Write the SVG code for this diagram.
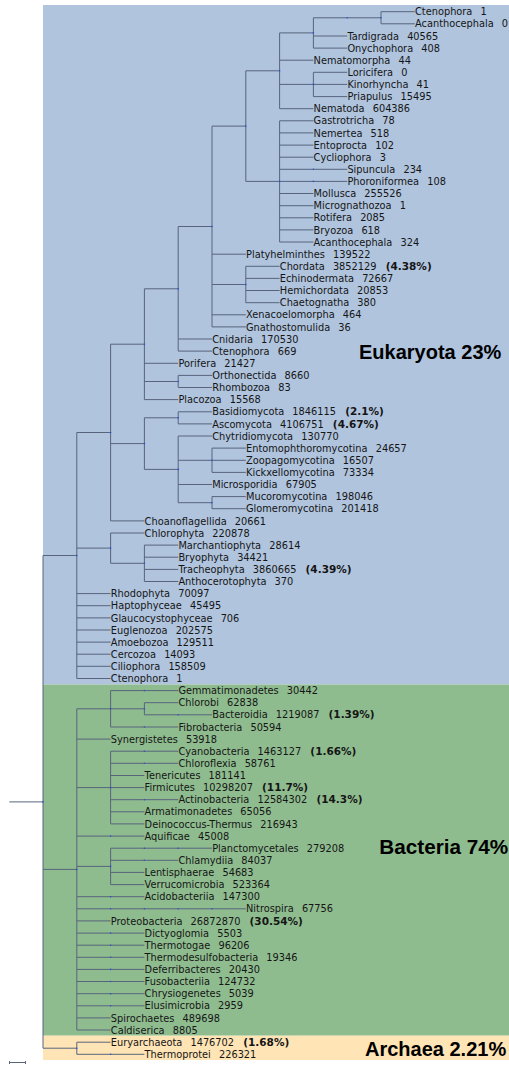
<svg xmlns="http://www.w3.org/2000/svg" width="509" height="1065" viewBox="0 0 509 1065">
<style>
.t{font-family:"DejaVu Sans",Verdana,sans-serif;font-size:9.8px;fill:#151515}
.b{font-weight:bold;font-size:10.5px}
.big{font-family:"Liberation Sans",Arial,sans-serif;font-weight:bold;fill:#000}
.e{stroke:#58647c;stroke-width:1;fill:none}
.d{fill:#2a4fd8}
</style>
<rect width="509" height="1065" fill="#fff"/>
<g id="backgrounds">
<rect x="43" y="5" width="466" height="679.5" fill="#b0c4de"/>
<rect x="43" y="684.5" width="466" height="351.2" fill="#8fbc8f"/>
<rect x="43" y="1035.7" width="466" height="24.3" fill="#ffe4b5"/>
</g>
<g id="connectors" class="e">
<path d="M9.3 801.9H43M43 555.5V1048.2M43 555.5H76.8M43 869.4H76.8M43 1048.2H76.8"/>
<path d="M76.8 432.5V678.5M76.8 432.5H110.6M76.8 548.1H110.6M76.8 593.6H110.6M76.8 605.7H110.6M76.8 617.9H110.6M76.8 630H110.6M76.8 642.1H110.6M76.8 654.2H110.6M76.8 666.3H110.6M76.8 678.5H110.6"/>
<path d="M110.6 344.2V520.9M110.6 344.2H144.4M110.6 443.6H144.4M110.6 520.9H144.4"/>
<path d="M144.4 288.8V399.6M144.4 288.8H178.2M144.4 363.3H178.2M144.4 381.5H178.2M144.4 399.6H178.2"/>
<path d="M178.2 226.5V351.1M178.2 226.5H212M178.2 339H212M178.2 351.1H212"/>
<path d="M178.2 375.4V387.5M178.2 375.4H212M178.2 387.5H212"/>
<path d="M212 126.1V326.9M212 126.1H245.8M212 254.2H245.8M212 284.5H245.8M212 314.8H245.8M212 326.9H245.8"/>
<path d="M245.8 70.8V181.4M245.8 70.8H279.6M245.8 181.4H279.6"/>
<path d="M245.8 266.3V302.7M245.8 266.3H279.6M245.8 278.4H279.6M245.8 290.5H279.6M245.8 302.7H279.6"/>
<path d="M279.6 32.9V108.7M279.6 32.9H313.4M279.6 60.2H313.4M279.6 84.4H313.4M279.6 108.7H313.4"/>
<path d="M313.4 17.8V48.1M313.4 17.8H381M313.4 36H347.2M313.4 48.1H347.2"/>
<path d="M381 11.7V23.8M381 11.7H414.8M381 23.8H414.8"/>
<path d="M313.4 72.3V96.6M313.4 72.3H347.2M313.4 84.4H347.2M313.4 96.6H347.2"/>
<path d="M279.6 120.8V242M279.6 120.8H313.4M279.6 132.9H313.4M279.6 145.1H313.4M279.6 157.2H313.4M279.6 169.3H347.2M279.6 181.4H347.2M279.6 193.5H313.4M279.6 205.7H313.4M279.6 217.8H313.4M279.6 229.9H313.4M279.6 242H313.4"/>
<path d="M144.4 417.8V469.4M144.4 417.8H178.2M144.4 469.4H178.2"/>
<path d="M178.2 411.8V423.9M178.2 411.8H212M178.2 423.9H212"/>
<path d="M178.2 436V502.7M178.2 436H212M178.2 460.3H212M178.2 484.5H212M178.2 502.7H212"/>
<path d="M212 448.1V472.4M212 448.1H245.8M212 460.3H245.8M212 472.4H245.8"/>
<path d="M212 496.6V508.7M212 496.6H245.8M212 508.7H245.8"/>
<path d="M110.6 533V563.3M110.6 533H144.4M110.6 563.3H144.4"/>
<path d="M144.4 545.1V581.5M144.4 545.1H178.2M144.4 557.2H178.2M144.4 569.4H178.2M144.4 581.5H178.2"/>
<path d="M76.8 708.8V1030M76.8 708.8H110.6M76.8 739.1H110.6M76.8 787.6H110.6M76.8 866.4H110.6M76.8 920.9H110.6M76.8 1017.9H110.6M76.8 1030H110.6M76.8 836.1H144.4M76.8 896.7H144.4M76.8 933.1H144.4M76.8 945.2H144.4M76.8 957.3H144.4M76.8 969.4H144.4M76.8 981.5H144.4M76.8 993.7H144.4M76.8 1005.8H144.4M76.8 908.8H245.8"/>
<path d="M110.6 690.6V727M110.6 690.6H178.2M110.6 708.8H144.4M110.6 727H178.2"/>
<path d="M144.4 702.7V714.8M144.4 702.7H178.2M144.4 714.8H212"/>
<path d="M110.6 751.2V823.9M110.6 751.2H178.2M110.6 763.3H178.2M110.6 775.5H144.4M110.6 787.6H144.4M110.6 799.7H178.2M110.6 811.8H144.4M110.6 823.9H144.4"/>
<path d="M110.6 848.2V884.6M110.6 848.2H212M110.6 860.3H178.2M110.6 872.4H144.4M110.6 884.6H144.4"/>
<path d="M76.8 1042.2V1054.3M76.8 1042.2H110.6M76.8 1054.3H144.4"/>
<path d="M9.5 1062.5H25.5M9.5 1061V1064M25.5 1061V1064"/>
</g>
<g id="node-markers" class="d">
<circle cx="43" cy="801.9" r="0.8"/><circle cx="76.8" cy="555.5" r="0.8"/><circle cx="76.8" cy="869.4" r="0.8"/><circle cx="76.8" cy="1048.2" r="0.8"/>
<circle cx="110.6" cy="432.5" r="0.8"/><circle cx="110.6" cy="548.1" r="0.8"/><circle cx="144.4" cy="344.2" r="0.8"/><circle cx="144.4" cy="443.6" r="0.8"/>
<circle cx="144.4" cy="563.3" r="0.8"/><circle cx="178.2" cy="288.8" r="0.8"/><circle cx="178.2" cy="381.5" r="0.8"/><circle cx="178.2" cy="417.8" r="0.8"/>
<circle cx="178.2" cy="469.4" r="0.8"/><circle cx="212" cy="226.5" r="0.8"/><circle cx="212" cy="460.3" r="0.8"/><circle cx="212" cy="502.7" r="0.8"/>
<circle cx="245.8" cy="126.1" r="0.8"/><circle cx="245.8" cy="284.5" r="0.8"/><circle cx="279.6" cy="70.8" r="0.8"/><circle cx="279.6" cy="181.4" r="0.8"/>
<circle cx="313.4" cy="32.9" r="0.8"/><circle cx="313.4" cy="84.4" r="0.8"/><circle cx="381" cy="17.8" r="0.8"/><circle cx="347.2" cy="17.8" r="0.8"/>
<circle cx="313.4" cy="169.3" r="0.8"/><circle cx="313.4" cy="181.4" r="0.8"/>
<circle cx="110.6" cy="708.8" r="0.8"/><circle cx="144.4" cy="708.8" r="0.8"/><circle cx="110.6" cy="787.6" r="0.8"/><circle cx="110.6" cy="866.4" r="0.8"/>
<circle cx="144.4" cy="690.6" r="0.8"/><circle cx="178.2" cy="714.8" r="0.8"/><circle cx="144.4" cy="727" r="0.8"/>
<circle cx="144.4" cy="751.2" r="0.8"/><circle cx="144.4" cy="763.3" r="0.8"/><circle cx="144.4" cy="799.7" r="0.8"/>
<circle cx="110.6" cy="836.1" r="0.8"/><circle cx="144.4" cy="848.2" r="0.8"/><circle cx="178.2" cy="848.2" r="0.8"/><circle cx="144.4" cy="860.3" r="0.8"/>
<circle cx="110.6" cy="896.7" r="0.8"/><circle cx="110.6" cy="908.8" r="0.8"/><circle cx="144.4" cy="908.8" r="0.8"/><circle cx="178.2" cy="908.8" r="0.8"/><circle cx="212" cy="908.8" r="0.8"/>
<circle cx="110.6" cy="933.1" r="0.8"/><circle cx="110.6" cy="945.2" r="0.8"/><circle cx="110.6" cy="957.3" r="0.8"/><circle cx="110.6" cy="969.4" r="0.8"/>
<circle cx="110.6" cy="981.5" r="0.8"/><circle cx="110.6" cy="993.7" r="0.8"/><circle cx="110.6" cy="1005.8" r="0.8"/><circle cx="110.6" cy="1054.3" r="0.8"/>
</g>
<g class="t">
<g id="n01"><text x="415" y="15.3">Ctenophora <tspan dx="5">1</tspan></text></g>
<g id="n02"><text x="415" y="27.4">Acanthocephala <tspan dx="5">0</tspan></text></g>
<g id="n03"><text x="347.4" y="39.6">Tardigrada <tspan dx="5">40565</tspan></text></g>
<g id="n04"><text x="347.4" y="51.7">Onychophora <tspan dx="5">408</tspan></text></g>
<g id="n05"><text x="313.6" y="63.8">Nematomorpha <tspan dx="5">44</tspan></text></g>
<g id="n06"><text x="347.4" y="75.9">Loricifera <tspan dx="5">0</tspan></text></g>
<g id="n07"><text x="347.4" y="88">Kinorhyncha <tspan dx="5">41</tspan></text></g>
<g id="n08"><text x="347.4" y="100.2">Priapulus <tspan dx="5">15495</tspan></text></g>
<g id="n09"><text x="313.6" y="112.3">Nematoda <tspan dx="5">604386</tspan></text></g>
<g id="n10"><text x="313.6" y="124.4">Gastrotricha <tspan dx="5">78</tspan></text></g>
<g id="n11"><text x="313.6" y="136.5">Nemertea <tspan dx="5">518</tspan></text></g>
<g id="n12"><text x="313.6" y="148.7">Entoprocta <tspan dx="5">102</tspan></text></g>
<g id="n13"><text x="313.6" y="160.8">Cycliophora <tspan dx="5">3</tspan></text></g>
<g id="n14"><text x="347.4" y="172.9">Sipuncula <tspan dx="5">234</tspan></text></g>
<g id="n15"><text x="347.4" y="185">Phoroniformea <tspan dx="5">108</tspan></text></g>
<g id="n16"><text x="313.6" y="197.2">Mollusca <tspan dx="5">255526</tspan></text></g>
<g id="n17"><text x="313.6" y="209.3">Micrognathozoa <tspan dx="5">1</tspan></text></g>
<g id="n18"><text x="313.6" y="221.4">Rotifera <tspan dx="5">2085</tspan></text></g>
<g id="n19"><text x="313.6" y="233.5">Bryozoa <tspan dx="5">618</tspan></text></g>
<g id="n20"><text x="313.6" y="245.6">Acanthocephala <tspan dx="5">324</tspan></text></g>
<g id="n21"><text x="246" y="257.8">Platyhelminthes <tspan dx="5">139522</tspan></text></g>
<g id="n22"><text x="279.8" y="269.9">Chordata <tspan dx="5">3852129</tspan> <tspan class="b" dx="6">(4.38%)</tspan></text></g>
<g id="n23"><text x="279.8" y="282">Echinodermata <tspan dx="5">72667</tspan></text></g>
<g id="n24"><text x="279.8" y="294.1">Hemichordata <tspan dx="5">20853</tspan></text></g>
<g id="n25"><text x="279.8" y="306.3">Chaetognatha <tspan dx="5">380</tspan></text></g>
<g id="n26"><text x="246" y="318.4">Xenacoelomorpha <tspan dx="5">464</tspan></text></g>
<g id="n27"><text x="246" y="330.5">Gnathostomulida <tspan dx="5">36</tspan></text></g>
<g id="n28"><text x="212.2" y="342.6">Cnidaria <tspan dx="5">170530</tspan></text></g>
<g id="n29"><text x="212.2" y="354.7">Ctenophora <tspan dx="5">669</tspan></text></g>
<g id="n30"><text x="178.4" y="366.9">Porifera <tspan dx="5">21427</tspan></text></g>
<g id="n31"><text x="212.2" y="379">Orthonectida <tspan dx="5">8660</tspan></text></g>
<g id="n32"><text x="212.2" y="391.1">Rhombozoa <tspan dx="5">83</tspan></text></g>
<g id="n33"><text x="178.4" y="403.2">Placozoa <tspan dx="5">15568</tspan></text></g>
<g id="n34"><text x="212.2" y="415.4">Basidiomycota <tspan dx="5">1846115</tspan> <tspan class="b" dx="6">(2.1%)</tspan></text></g>
<g id="n35"><text x="212.2" y="427.5">Ascomycota <tspan dx="5">4106751</tspan> <tspan class="b" dx="6">(4.67%)</tspan></text></g>
<g id="n36"><text x="212.2" y="439.6">Chytridiomycota <tspan dx="5">130770</tspan></text></g>
<g id="n37"><text x="246" y="451.7">Entomophthoromycotina <tspan dx="5">24657</tspan></text></g>
<g id="n38"><text x="246" y="463.9">Zoopagomycotina <tspan dx="5">16507</tspan></text></g>
<g id="n39"><text x="246" y="476">Kickxellomycotina <tspan dx="5">73334</tspan></text></g>
<g id="n40"><text x="212.2" y="488.1">Microsporidia <tspan dx="5">67905</tspan></text></g>
<g id="n41"><text x="246" y="500.2">Mucoromycotina <tspan dx="5">198046</tspan></text></g>
<g id="n42"><text x="246" y="512.3">Glomeromycotina <tspan dx="5">201418</tspan></text></g>
<g id="n43"><text x="144.6" y="524.5">Choanoflagellida <tspan dx="5">20661</tspan></text></g>
<g id="n44"><text x="144.6" y="536.6">Chlorophyta <tspan dx="5">220878</tspan></text></g>
<g id="n45"><text x="178.4" y="548.7">Marchantiophyta <tspan dx="5">28614</tspan></text></g>
<g id="n46"><text x="178.4" y="560.8">Bryophyta <tspan dx="5">34421</tspan></text></g>
<g id="n47"><text x="178.4" y="573">Tracheophyta <tspan dx="5">3860665</tspan> <tspan class="b" dx="6">(4.39%)</tspan></text></g>
<g id="n48"><text x="178.4" y="585.1">Anthocerotophyta <tspan dx="5">370</tspan></text></g>
<g id="n49"><text x="110.8" y="597.2">Rhodophyta <tspan dx="5">70097</tspan></text></g>
<g id="n50"><text x="110.8" y="609.3">Haptophyceae <tspan dx="5">45495</tspan></text></g>
<g id="n51"><text x="110.8" y="621.5">Glaucocystophyceae <tspan dx="5">706</tspan></text></g>
<g id="n52"><text x="110.8" y="633.6">Euglenozoa <tspan dx="5">202575</tspan></text></g>
<g id="n53"><text x="110.8" y="645.7">Amoebozoa <tspan dx="5">129511</tspan></text></g>
<g id="n54"><text x="110.8" y="657.8">Cercozoa <tspan dx="5">14093</tspan></text></g>
<g id="n55"><text x="110.8" y="669.9">Ciliophora <tspan dx="5">158509</tspan></text></g>
<g id="n56"><text x="110.8" y="682.1">Ctenophora <tspan dx="5">1</tspan></text></g>
<g id="n57"><text x="178.4" y="694.2">Gemmatimonadetes <tspan dx="5">30442</tspan></text></g>
<g id="n58"><text x="178.4" y="706.3">Chlorobi <tspan dx="5">62838</tspan></text></g>
<g id="n59"><text x="212.2" y="718.4">Bacteroidia <tspan dx="5">1219087</tspan> <tspan class="b" dx="6">(1.39%)</tspan></text></g>
<g id="n60"><text x="178.4" y="730.6">Fibrobacteria <tspan dx="5">50594</tspan></text></g>
<g id="n61"><text x="110.8" y="742.7">Synergistetes <tspan dx="5">53918</tspan></text></g>
<g id="n62"><text x="178.4" y="754.8">Cyanobacteria <tspan dx="5">1463127</tspan> <tspan class="b" dx="6">(1.66%)</tspan></text></g>
<g id="n63"><text x="178.4" y="766.9">Chloroflexia <tspan dx="5">58761</tspan></text></g>
<g id="n64"><text x="144.6" y="779.1">Tenericutes <tspan dx="5">181141</tspan></text></g>
<g id="n65"><text x="144.6" y="791.2">Firmicutes <tspan dx="5">10298207</tspan> <tspan class="b" dx="6">(11.7%)</tspan></text></g>
<g id="n66"><text x="178.4" y="803.3">Actinobacteria <tspan dx="5">12584302</tspan> <tspan class="b" dx="6">(14.3%)</tspan></text></g>
<g id="n67"><text x="144.6" y="815.4">Armatimonadetes <tspan dx="5">65056</tspan></text></g>
<g id="n68"><text x="144.6" y="827.5">Deinococcus-Thermus <tspan dx="5">216943</tspan></text></g>
<g id="n69"><text x="144.6" y="839.7">Aquificae <tspan dx="5">45008</tspan></text></g>
<g id="n70"><text x="212.2" y="851.8">Planctomycetales <tspan dx="5">279208</tspan></text></g>
<g id="n71"><text x="178.4" y="863.9">Chlamydiia <tspan dx="5">84037</tspan></text></g>
<g id="n72"><text x="144.6" y="876">Lentisphaerae <tspan dx="5">54683</tspan></text></g>
<g id="n73"><text x="144.6" y="888.2">Verrucomicrobia <tspan dx="5">523364</tspan></text></g>
<g id="n74"><text x="144.6" y="900.3">Acidobacteriia <tspan dx="5">147300</tspan></text></g>
<g id="n75"><text x="246" y="912.4">Nitrospira <tspan dx="5">67756</tspan></text></g>
<g id="n76"><text x="110.8" y="924.5">Proteobacteria <tspan dx="5">26872870</tspan> <tspan class="b" dx="6">(30.54%)</tspan></text></g>
<g id="n77"><text x="144.6" y="936.7">Dictyoglomia <tspan dx="5">5503</tspan></text></g>
<g id="n78"><text x="144.6" y="948.8">Thermotogae <tspan dx="5">96206</tspan></text></g>
<g id="n79"><text x="144.6" y="960.9">Thermodesulfobacteria <tspan dx="5">19346</tspan></text></g>
<g id="n80"><text x="144.6" y="973">Deferribacteres <tspan dx="5">20430</tspan></text></g>
<g id="n81"><text x="144.6" y="985.1">Fusobacteriia <tspan dx="5">124732</tspan></text></g>
<g id="n82"><text x="144.6" y="997.3">Chrysiogenetes <tspan dx="5">5039</tspan></text></g>
<g id="n83"><text x="144.6" y="1009.4">Elusimicrobia <tspan dx="5">2959</tspan></text></g>
<g id="n84"><text x="110.8" y="1021.5">Spirochaetes <tspan dx="5">489698</tspan></text></g>
<g id="n85"><text x="110.8" y="1033.6">Caldiserica <tspan dx="5">8805</tspan></text></g>
<g id="n86"><text x="110.8" y="1045.8">Euryarchaeota <tspan dx="5">1476702</tspan> <tspan class="b" dx="6">(1.68%)</tspan></text></g>
<g id="n87"><text x="144.6" y="1057.9">Thermoprotei <tspan dx="5">226321</tspan></text></g>
</g>
<g id="group-labels" class="big">
<text x="359" y="359.3" font-size="20">Eukaryota 23%</text>
<text x="379.3" y="854" font-size="20.7">Bacteria 74%</text>
<text x="365" y="1056" font-size="20">Archaea 2.21%</text>
</g>
</svg>
